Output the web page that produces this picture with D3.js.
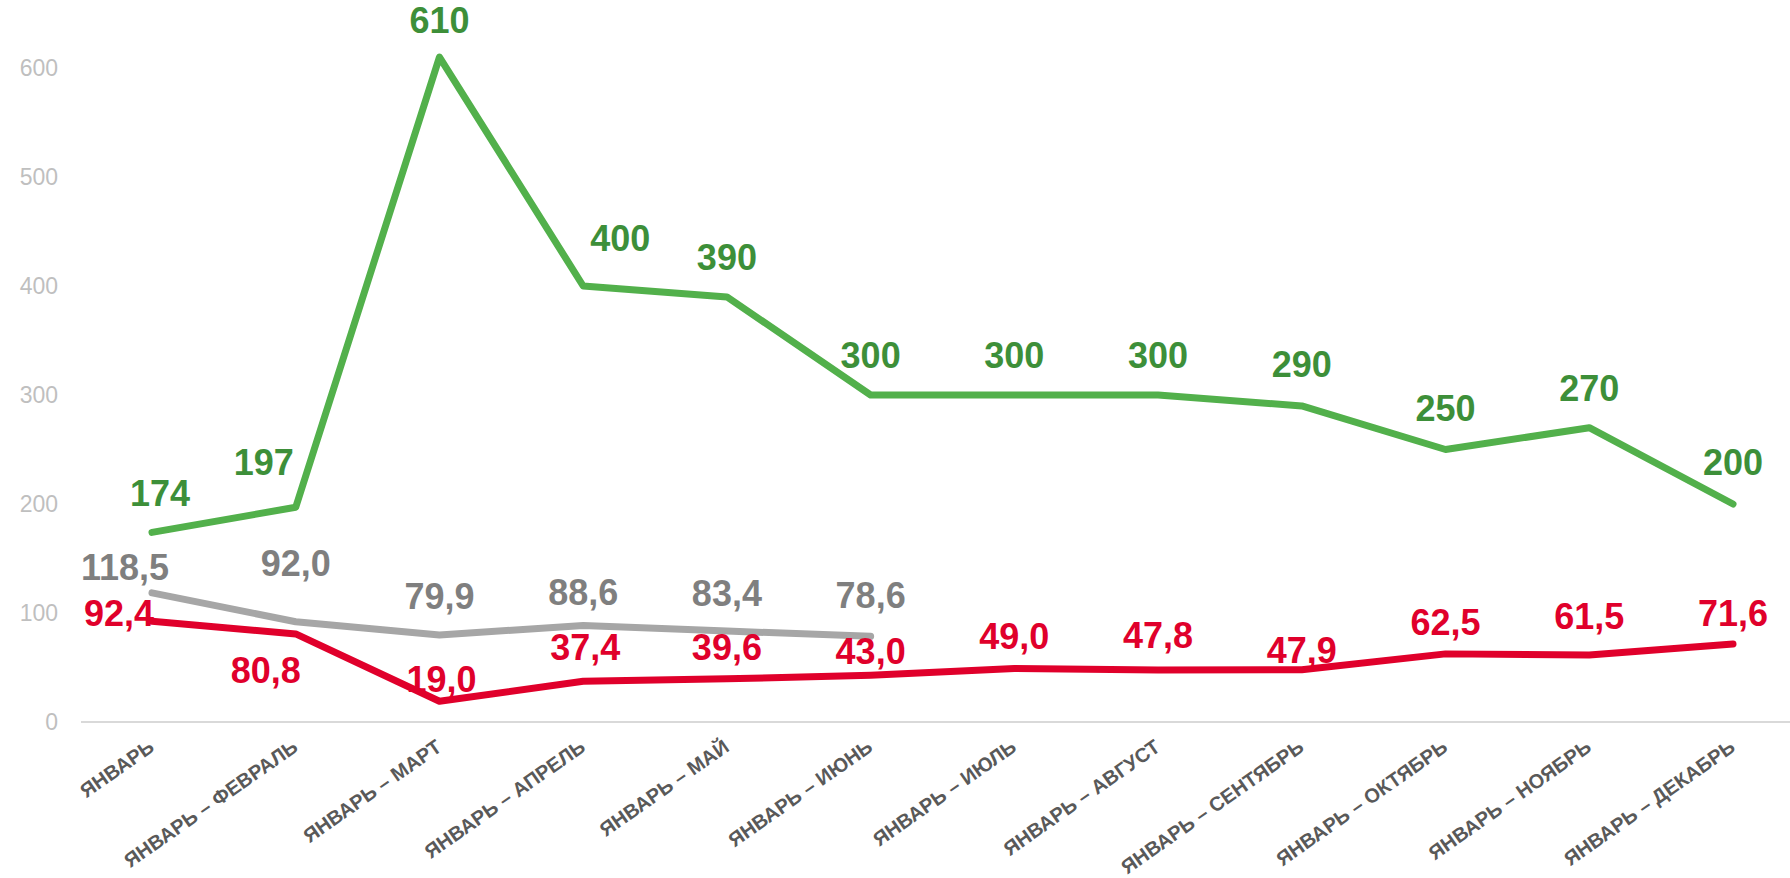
<!DOCTYPE html>
<html>
<head>
<meta charset="utf-8">
<script src="https://cdn.jsdelivr.net/npm/d3@7"></script>
<style>
  body { margin: 0; background: #fff; }
  svg { display: block; font-family: Arial, "Liberation Sans", sans-serif; }
</style>
</head>
<body>
<svg id="chart" width="1790" height="878"></svg>
<script>
// Categories and series
const categories = ["ЯНВАРЬ", "ЯНВАРЬ – ФЕВРАЛЬ", "ЯНВАРЬ – МАРТ", "ЯНВАРЬ – АПРЕЛЬ", "ЯНВАРЬ – МАЙ", "ЯНВАРЬ – ИЮНЬ",
    "ЯНВАРЬ – ИЮЛЬ", "ЯНВАРЬ – АВГУСТ", "ЯНВАРЬ – СЕНТЯБРЬ", "ЯНВАРЬ – ОКТЯБРЬ", "ЯНВАРЬ – НОЯБРЬ", "ЯНВАРЬ – ДЕКАБРЬ"];
const greenValues = [174, 197, 610, 400, 390, 300, 300, 300, 290, 250, 270, 200];
const greyValues = [118.5, 92.0, 79.9, 88.6, 83.4, 78.6];
const redValues = [92.4, 80.8, 19.0, 37.4, 39.6, 43.0, 49.0, 47.8, 47.9, 62.5, 61.5, 71.6];
const yTicks = [0, 100, 200, 300, 400, 500, 600];

// Label placement relative to each point (layout only)
const greenShift = [[8, -39], [-32, -45], [0, -37], [37, -48], [0, -40], [0, -40], [0, -40], [0, -40], [0, -42], [0, -41], [0, -40], [0, -42]];
const greyShift = [[-27, -26], [0, -59], [0, -39], [0, -33], [0, -38], [0, -41]];
const redShift = [[-33, -8], [-30, 36], [2, -22], [2, -34], [0, -32], [0, -24], [0, -33], [0, -35], [0, -20], [0, -32], [0, -39], [0, -31]];

const svg = d3.select("#chart");

const x = d3.scalePoint()
    .domain(categories)
    .range([152, 1733]);

const y = d3.scaleLinear()
    .domain([0, 600])
    .range([722, 68]);

// baseline
svg.append("line")
    .attr("x1", 81).attr("x2", 1790)
    .attr("y1", y(0)).attr("y2", y(0))
    .attr("stroke", "#d9d9d9")
    .attr("stroke-width", 2);

// y axis labels
const yAxis = svg.append("g")
    .attr("transform", "translate(58,0)")
    .call(d3.axisLeft(y).tickValues(yTicks).tickSize(0).tickPadding(0).tickFormat(d3.format("d")));
yAxis.select(".domain").remove();
yAxis.selectAll("text")
    .attr("fill", "#bfbfbf")
    .style("font-size", "23px")
    .style("font-family", "Arial, 'Liberation Sans', sans-serif");

// x axis labels
const xAxis = svg.append("g")
    .attr("transform", `translate(0,${y(0)})`)
    .call(d3.axisBottom(x).tickSize(0).tickPadding(0));
xAxis.select(".domain").remove();
xAxis.selectAll(".tick text")
    .attr("fill", "#595959")
    .attr("text-anchor", "end")
    .attr("dy", 0)
    .attr("y", 0)
    .attr("transform", "translate(3,28) rotate(-35)")
    .style("font-size", "20px")
    .style("font-weight", "bold")
    .style("font-family", "Arial, 'Liberation Sans', sans-serif");

const series = [
    { values: greenValues, shift: greenShift, line: "#52b04b", label: "#3d8f39", fmt: d3.format("d") },
    { values: greyValues, shift: greyShift, line: "#a6a6a6", label: "#7f7f7f", fmt: v => v.toFixed(1).replace(".", ",") },
    { values: redValues, shift: redShift, line: "#e0002b", label: "#e0002b", fmt: v => v.toFixed(1).replace(".", ",") }
];

const line = d3.line()
    .x((d, i) => x(categories[i]))
    .y(d => y(d));

series.forEach(s => {
    svg.append("path")
        .datum(s.values)
        .attr("fill", "none")
        .attr("stroke", s.line)
        .attr("stroke-width", 7)
        .attr("stroke-linejoin", "round")
        .attr("stroke-linecap", "round")
        .attr("d", line);
});

series.forEach(s => {
    svg.append("g")
        .selectAll("text")
        .data(s.values)
        .join("text")
        .attr("x", (d, i) => x(categories[i]) + s.shift[i][0])
        .attr("y", (d, i) => y(d) + s.shift[i][1])
        .attr("dy", "0.36em")
        .attr("text-anchor", "middle")
        .attr("fill", s.label)
        .style("font-size", "36px")
        .style("font-weight", "bold")
        .text(d => s.fmt(d));
});
</script>
</body>
</html>
